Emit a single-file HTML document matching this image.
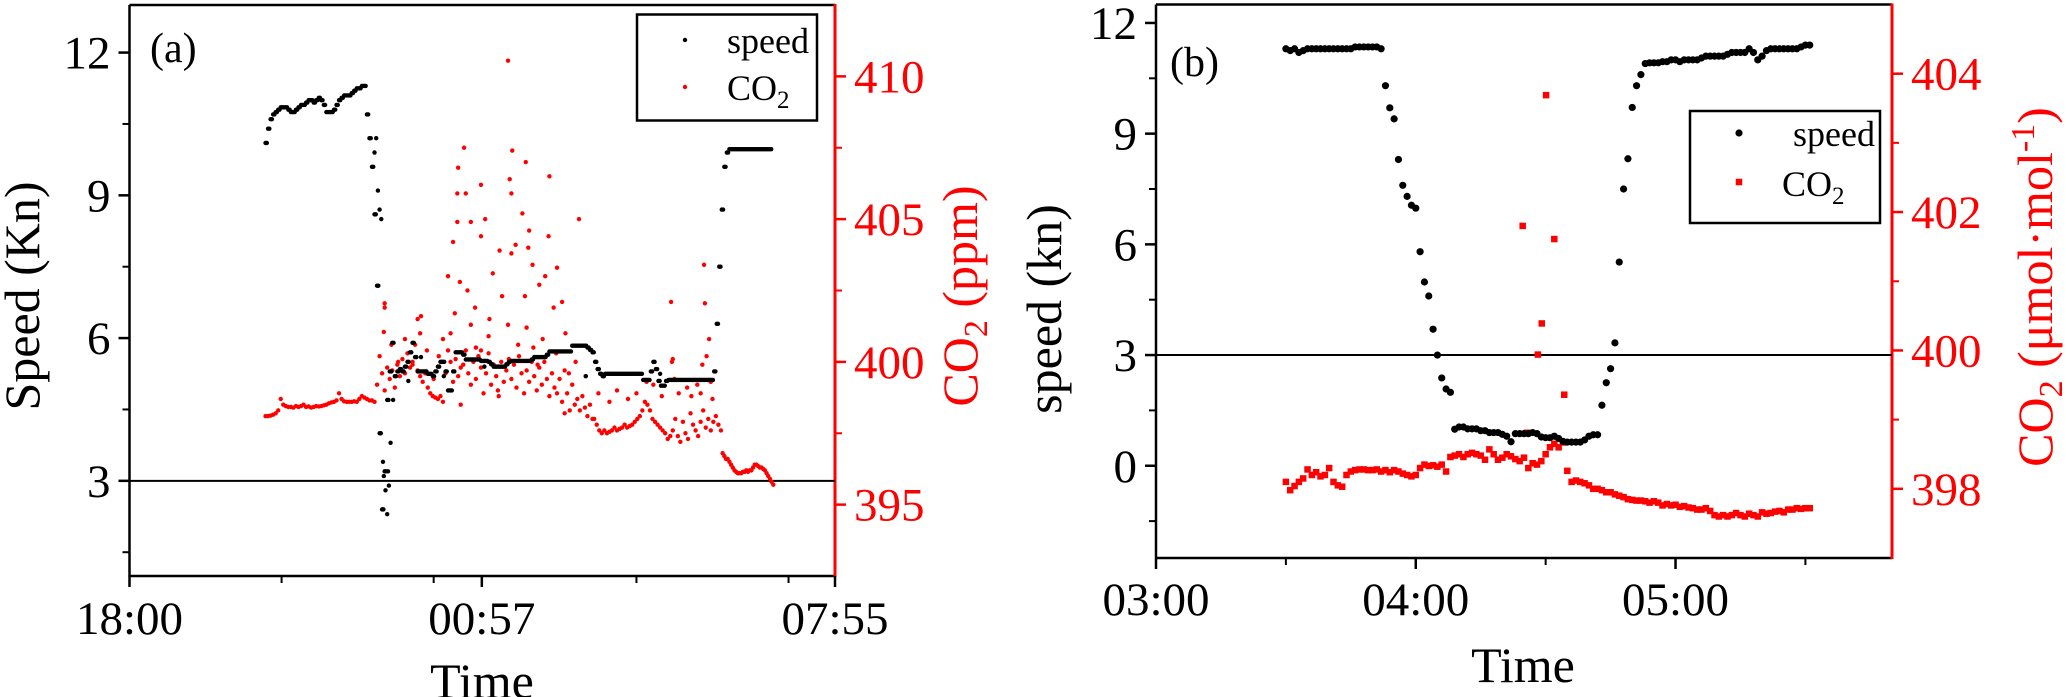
<!DOCTYPE html>
<html><head><meta charset="utf-8"><style>
html,body{margin:0;padding:0;background:#fff;}
svg{display:block;}
svg text{font-family:"Liberation Serif","DejaVu Serif",serif;}
</style></head><body>
<svg id="chart" width="2066" height="697" viewBox="0 0 2066 697" xmlns="http://www.w3.org/2000/svg" font-family="Liberation Serif, DejaVu Serif, serif">
<g id="panelA"></g>
<g id="panelB"></g>
</svg>
<script>
// ---------- Panel (a) data: time in minutes since 18:00 ----------
const aXTickMajor = [0, 417, 835];
const aXTickLabels = ["18:00", "00:57", "07:55"];
const aXTickMinor = [180, 360, 600, 780];
const aYTicks = [3, 6, 9, 12];
const aYMinor = [1.5, 4.5, 7.5, 10.5];
const aRTicks = [395, 400, 405, 410];
const aRMinor = [397.5, 402.5, 407.5];

const speedAStart = 161, speedAStep = 3;
const speedAValues = [10.1,10.4,10.6,
10.7,10.75,10.8,10.85,10.85,10.85,10.8,10.75,10.75,10.8,10.85,10.9,10.9,10.95,11.0,11.0,10.95,11.0,11.05,11.0,10.9,10.75,10.75,10.75,10.8,10.9,11.0,11.05,11.1,11.1,11.1,11.15,11.2,11.25,11.25,11.3,11.3,
10.7,10.2,9.6,8.6,7.1,4.0,2.4,3.2,4.7,5.3,5.9,
5.2,5.3,5.35,5.3,5.4,5.5,5.7,5.9,5.6,5.3,5.3,5.3,5.3,5.25,5.25,5.2,5.3,5.4,5.5,5.5,5.3,4.9,4.9,5.3,5.7,5.7,5.7,5.65,5.55,5.55,5.55,5.55,5.55,5.55,5.52,5.52,5.52,5.5,5.45,5.4,5.4,5.4,5.4,5.4,5.45,5.5,5.52,5.52,5.52,5.52,5.52,5.52,5.52,5.52,5.55,5.6,5.6,5.6,5.6,5.6,5.65,5.72,5.72,5.72,5.72,5.72,5.72,5.72,5.72,5.72,5.84,5.84,5.84,5.84,5.84,5.84,5.8,5.75,5.7,5.5,5.35,5.25,5.2,
5.25,5.25,5.25,5.25,5.25,5.25,5.25,5.25,5.25,5.25,5.25,5.25,5.25,5.25,5.25,5.12,5.12,5.12,5.3,5.5,5.35,5.1,5.0,5.0,5.1,
5.12,5.12,5.12,5.12,5.12,5.12,5.12,5.12,5.12,5.12,5.12,5.12,5.12,5.12,5.12,5.12,5.12,5.12,
5.3,6.3,7.5,8.7,9.6,9.9,
9.97,9.97,9.97,9.97,9.97,9.97,9.97,9.97,9.97,9.97,9.97,9.97,9.97,9.97,9.97,9.97,9.97];
const speedAExtraT = [290,292,294,296,298,300,301,303,305,307,309,306,312,310,330,345,372,420,540,628];
const speedAExtraV = [9.9,10.2,9.1,8.7,8.5,3.4,3.1,2.8,2.3,2.9,3.8,3.2,4.7,5.3,5.1,5.6,5.2,5.4,5.2,5.25];

const co2ASegStarts = [161, 293, 550, 702];
const co2ASegSteps = [3, 3, 3, 2];
const co2ASeg1 = [398.1,398.1,398.12,398.15,398.2,398.3,398.7,398.5,398.45,398.42,398.42,398.4,398.45,398.42,398.45,398.5,398.42,398.44,398.4,398.42,398.45,398.44,398.45,398.48,398.5,398.55,398.58,398.6,398.65,398.9,398.7,398.62,398.6,398.6,398.6,398.62,398.6,398.7,398.8,398.75,398.7,398.65,398.65,398.6];
const co2ASeg2 = [399.2,400.2,399.6,399.0,399.8,399.4,399.7,399.1,399.9,399.5,400.1,399.6,400.3,399.8,400.0,400.6,399.7,399.5,399.3,399.6,399.1,398.9,398.8,398.75,398.7,398.8,398.6,399.6,400.4,400.0,399.3,400.1,399.5,398.5,399.9,400.4,399.6,399.2,400.0,399.4,400.2,399.8,398.9,399.6,400.3,399.2,399.9,399.5,398.8,400.0,399.3,399.7,400.1,399.4,399.9,399.1,400.2,399.6,398.9,399.7,399.3,400.0,399.5,399.0,399.8,399.2,400.0,399.4,398.8,399.6,399.1,398.9,399.4,398.6,398.2,398.9,398.3,399.2,398.5,398.7,398.3,398.8,398.4,398.1,398.5,398.0];
const co2ASeg3 = [398.0,397.8,397.6,397.5,397.6,397.5,397.55,397.6,397.7,397.6,397.65,397.7,397.8,397.7,397.75,397.8,397.9,398.0,398.1,398.3,
398.6,398.5,398.3,398.0,397.9,397.8,397.7,397.6,397.5,397.3,397.4,
397.6,398.0,397.4,397.2,397.9,397.5,397.3,398.2,397.8,397.6,397.4,397.9,398.3,397.7,398.0,397.6,397.9,398.1,397.8,397.6];
const co2ASeg4 = [396.8,396.7,396.6,396.6,396.5,396.4,396.3,396.2,396.15,396.1,396.1,396.1,396.15,396.15,396.2,396.15,396.2,396.2,396.3,396.4,396.4,396.35,396.3,396.3,396.25,396.2,396.1,396.0,395.9,395.8,395.7];
const co2AExtraT = [448,396,453,469,389,497,450,416,388,398,452,532,404,465,421,388,473,496,416,383,438,452,457,472,430,477,492,506,377,391,400,485,441,468,512,502,409,385,426,302,341,404,448,516,416,478,489,371,344,641,642,680,681,686,683,678,643,302,301,345,
577,590,600,612,620,630,645,650,660,665,672,676,690,688,528,540,520,555,568,310,318,326,335,352,360,366,380,392,410,425,436,460,470,483,505,515];
const co2AExtraV = [410.55,407.5,407.4,407.0,406.8,406.5,406.4,406.2,405.9,405.9,405.9,405.0,404.9,405.2,405.0,404.9,404.6,404.4,404.4,404.2,403.9,403.8,404.1,404.0,403.1,403.4,403.0,403.3,403.0,402.8,402.5,402.7,402.3,402.3,402.1,401.9,401.9,401.7,401.5,401.9,401.5,401.3,401.3,401.0,400.4,400.5,400.8,400.8,401.0,402.1,400.0,403.4,402.05,400.8,400.2,399.9,400.1,402.05,401.05,401.6,
399.0,398.7,398.9,399.3,399.2,398.8,399.4,398.9,399.1,398.8,399.2,398.9,398.7,399.3,400.0,399.5,399.6,398.9,398.6,400.6,400.0,400.8,399.9,400.4,399.4,400.2,401.0,399.8,400.5,400.9,399.0,400.6,401.2,399.9,400.3,399.7];

// ---------- Panel (b) data: time in minutes since 03:00 ----------
const bXTickMajor = [0, 60, 120];
const bXTickLabels = ["03:00", "04:00", "05:00"];
const bXTickMinor = [30, 90, 150];
const bYTicks = [0, 3, 6, 9, 12];
const bYMinor = [-1.5, 1.5, 4.5, 7.5, 10.5];
const bRTicks = [398, 400, 402, 404];
const bRMinor = [399, 401, 403];

const speedBStart = 30;
const speedBValues = [11.3,11.25,11.3,11.2,11.25,11.3,11.3,11.3,11.3,11.3,11.3,11.3,11.3,11.3,11.3,11.3,11.35,11.35,11.35,11.35,11.35,11.35,11.3,
10.3,9.7,9.4,8.3,7.6,7.3,7.06,6.98,5.8,4.98,4.6,3.7,3.0,2.38,2.08,1.99,0.99,
1.05,1.05,1.0,1.0,1.0,0.95,0.95,0.9,0.9,0.9,0.85,0.8,0.65,0.87,0.87,0.87,0.87,0.9,0.87,0.78,0.76,0.76,0.8,0.74,0.66,0.64,0.64,0.64,0.64,0.7,0.8,0.84,0.84,
1.64,2.25,2.63,3.33,5.52,7.5,8.32,9.71,10.3,10.6,10.9,
10.92,10.92,10.92,10.95,10.95,11.0,11.0,10.95,11.0,11.0,11.0,11.0,11.05,11.1,11.1,11.1,11.1,11.1,11.15,11.2,11.2,11.2,11.2,11.3,11.2,11.0,11.1,11.25,11.3,11.3,11.3,11.3,11.3,11.3,11.3,11.35,11.4,11.4];

const co2BStart = 30;
const co2BValues = [398.1,397.98,398.04,398.1,398.15,398.28,398.2,398.24,398.18,398.2,398.3,398.1,398.05,398.03,398.2,398.25,398.27,398.28,398.28,398.27,398.27,
398.28,398.25,398.27,398.24,398.27,398.25,398.22,398.2,398.18,398.2,398.3,398.35,398.33,398.34,398.32,398.35,398.25,398.46,
398.48,398.5,398.46,398.5,398.52,398.5,398.48,398.42,398.57,398.5,398.42,398.45,398.5,398.47,398.43,398.4,
398.45,398.3,398.37,398.35,398.4,398.5,398.6,398.65,398.6,398.67,
398.26,398.1,398.12,398.1,398.08,398.05,398.0,398.0,397.98,397.95,397.95,397.92,397.9,397.88,397.85,397.84,397.83,397.83,397.82,397.8,397.82,397.8,397.76,397.78,397.76,397.77,397.74,397.75,397.73,397.72,397.7,397.7,397.72,397.68,397.62,397.6,397.62,397.6,397.62,397.65,397.62,397.6,397.64,397.62,397.6,397.66,397.64,397.65,397.67,397.68,397.66,397.7,397.7,397.72,397.71,397.72,397.72];
const co2BExtraT = [84.7, 85.7, 88.2, 89.1, 90.1, 92.0, 94.3];
const co2BExtraV = [401.8, 398.81, 399.94, 400.39, 403.69, 401.61, 399.36];

// ---------- helpers ----------
const NS = "http://www.w3.org/2000/svg";
const SERIF = "Liberation Serif, DejaVu Serif, serif";
function mk(parent, tag, attrs) {
  const e = document.createElementNS(NS, tag);
  for (const k in attrs) e.setAttribute(k, attrs[k]);
  parent.appendChild(e);
  return e;
}
function lin(d0, d1, r0, r1) { return v => r0 + (v - d0) * (r1 - r0) / (d1 - d0); }

const A = {L: 129.5, R: 835, T: 5, B: 576};
const axA = lin(0, 835, A.L, A.R);
const ayA = lin(1, 13, A.B, A.T);
const arA = lin(392.5, 412.5, A.B, A.T);
const B = {L: 1156, R: 1892, T: 4.5, B: 558};
const bxB = lin(0, 170, B.L, B.R);
const byB = lin(-2.5, 12.5, B.B, B.T);
const brB = lin(397, 405, B.B, B.T);

function drawFrame(g, P, name) {
  let e;
  e = mk(g, "line", {x1: P.L, y1: P.T, x2: P.R, y2: P.T, stroke: "#000", "stroke-width": 2.5});
  
  
  e = mk(g, "line", {x1: P.L, y1: P.B, x2: P.R, y2: P.B, stroke: "#000", "stroke-width": 2.5});
  
  
  e = mk(g, "line", {x1: P.L, y1: P.T, x2: P.L, y2: P.B, stroke: "#000", "stroke-width": 2.5});
  
  
  e = mk(g, "line", {x1: P.R, y1: P.T - 1, x2: P.R, y2: P.B + 1, stroke: "#f00", "stroke-width": 3});
  
  
}
function txt(g, x, y, s, attrs, name) {
  const e = mk(g, "text", Object.assign({x: x, y: y, "font-family": SERIF}, attrs));
  e.textContent = s;
  
  
  return e;
}
function xTicks(g, P, sx, major, labels, minor, labelY, name) {
  major.forEach((t, i) => {
    const l = mk(g, "line", {x1: sx(t), y1: P.B, x2: sx(t), y2: P.B + 11, stroke: "#000", "stroke-width": 2.5});
    
    
    txt(g, sx(t), labelY, labels[i], {"font-size": 47, "text-anchor": "middle", fill: "#000"}, name + '-x-tick-label');
  });
  minor.forEach(t => {
    const l = mk(g, "line", {x1: sx(t), y1: P.B, x2: sx(t), y2: P.B + 7, stroke: "#000", "stroke-width": 2});
    
    
  });
}
function yTicks(g, P, sy, major, minor, side, color, name) {
  const x0 = side === "L" ? P.L : P.R;
  const dir = side === "L" ? -1 : 1;
  major.forEach(v => {
    const l = mk(g, "line", {x1: x0, y1: sy(v), x2: x0 + dir * 11, y2: sy(v), stroke: color, "stroke-width": 2.5});
    
    
    txt(g, x0 + dir * 19, sy(v) + 16, String(v), {"font-size": 47, "text-anchor": side === "L" ? "end" : "start", fill: color}, name + '-y-tick-label');
  });
  minor.forEach(v => {
    const l = mk(g, "line", {x1: x0, y1: sy(v), x2: x0 + dir * 7, y2: sy(v), stroke: color, "stroke-width": 2});
    
    
  });
}
function dot(g, x, y, r, color, name) {
  const c = mk(g, "circle", {cx: x, cy: y, r: r, fill: color});
  
  
}
function sq(g, x, y, s, color, name) {
  const c = mk(g, "rect", {x: x - s / 2, y: y - s / 2, width: s, height: s, fill: color});
  
  
}

// ---------- Draw panel A ----------
const gA = document.getElementById("panelA");
drawFrame(gA, A, "panel-a");
xTicks(gA, A, axA, aXTickMajor, aXTickLabels, aXTickMinor, 634, "panel-a");
yTicks(gA, A, ayA, aYTicks, aYMinor, "L", "#000", "panel-a-speed");
yTicks(gA, A, arA, aRTicks, aRMinor, "R", "#f00", "panel-a-co2");
let hl = mk(gA, "line", {x1: A.L, y1: ayA(3), x2: A.R, y2: ayA(3), stroke: "#000", "stroke-width": 2});



const gAco2 = mk(gA, "g", {});


[co2ASeg1, co2ASeg2, co2ASeg3, co2ASeg4].forEach((seg, si) => {
  seg.forEach((v, i) => dot(gAco2, axA(co2ASegStarts[si] + i * co2ASegSteps[si]), arA(v), 2.2, "#f00", "co2-point"));
});
co2AExtraT.forEach((t, i) => dot(gAco2, axA(t), arA(co2AExtraV[i]), 2.2, "#f00", "co2-point"));

const gAsp = mk(gA, "g", {});


speedAValues.forEach((v, i) => {
  const t = speedAStart + i * speedAStep;
  dot(gAsp, axA(t), ayA(v), 2.2, "#000", "speed-point");
  dot(gAsp, axA(t + 1.5), ayA(v), 2.2, "#000", "speed-point");
});
speedAExtraT.forEach((t, i) => dot(gAsp, axA(t), ayA(speedAExtraV[i]), 2.2, "#000", "speed-point"));

txt(gA, 150, 62, "(a)", {"font-size": 42, fill: "#000"}, "panel-a-label");
txt(gA, 0, 0, "Speed (Kn)", {"font-size": 50, "text-anchor": "middle", fill: "#000", transform: "translate(39,296) rotate(-90)"}, "panel-a-y-axis-title");
txt(gA, 482, 698, "Time", {"font-size": 50, "text-anchor": "middle", fill: "#000"}, "panel-a-x-axis-title");
let rl = mk(gA, "text", {x: 0, y: 0, "font-family": SERIF, "font-size": 50, "text-anchor": "middle", fill: "#f00", transform: "translate(977,296) rotate(-90)"});
rl.innerHTML = 'CO<tspan font-size="34" dy="10">2</tspan><tspan dy="-10"> (ppm)</tspan>';



const lgA = mk(gA, "g", {});


let bx = mk(lgA, "rect", {x: 637, y: 14.5, width: 180, height: 106, fill: "#fff", stroke: "#000", "stroke-width": 2.5});


dot(lgA, 685, 40, 2.2, "#000", "legend-speed-marker");
dot(lgA, 685, 87, 2.2, "#f00", "legend-co2-marker");
txt(lgA, 727, 53, "speed", {"font-size": 36, fill: "#000"}, "legend-entry-speed");
let lc = mk(lgA, "text", {x: 727, y: 100, "font-family": SERIF, "font-size": 36, fill: "#000"});
lc.innerHTML = 'CO<tspan font-size="25" dy="8">2</tspan>';



// ---------- Draw panel B ----------
const gB = document.getElementById("panelB");
drawFrame(gB, B, "panel-b");
xTicks(gB, B, bxB, bXTickMajor, bXTickLabels, bXTickMinor, 615, "panel-b");
yTicks(gB, B, byB, bYTicks, bYMinor, "L", "#000", "panel-b-speed");
yTicks(gB, B, brB, bRTicks, bRMinor, "R", "#f00", "panel-b-co2");
hl = mk(gB, "line", {x1: B.L, y1: byB(3), x2: B.R, y2: byB(3), stroke: "#000", "stroke-width": 2});



const gBco2 = mk(gB, "g", {});


co2BValues.forEach((v, i) => sq(gBco2, bxB(co2BStart + i), brB(v), 6.5, "#f00", "co2-point"));
co2BExtraT.forEach((t, i) => sq(gBco2, bxB(t), brB(co2BExtraV[i]), 6.5, "#f00", "co2-point"));

const gBsp = mk(gB, "g", {});


speedBValues.forEach((v, i) => dot(gBsp, bxB(speedBStart + i), byB(v), 3.6, "#000", "speed-point"));

txt(gB, 1170, 76, "(b)", {"font-size": 42, fill: "#000"}, "panel-b-label");
txt(gB, 0, 0, "speed (kn)", {"font-size": 50, "text-anchor": "middle", fill: "#000", transform: "translate(1061,309) rotate(-90)"}, "panel-b-y-axis-title");
txt(gB, 1523, 682, "Time", {"font-size": 50, "text-anchor": "middle", fill: "#000"}, "panel-b-x-axis-title");
let rb = mk(gB, "text", {x: 0, y: 0, "font-family": SERIF, "font-size": 50, "text-anchor": "middle", fill: "#f00", transform: "translate(2052,287) rotate(-90)"});
rb.innerHTML = 'CO<tspan font-size="34" dy="10">2</tspan><tspan dy="-10"> (μmol·mol</tspan><tspan font-size="34" dy="-18">-1</tspan><tspan dy="18">)</tspan>';



const lgB = mk(gB, "g", {});


bx = mk(lgB, "rect", {x: 1690, y: 111, width: 190, height: 112, fill: "#fff", stroke: "#000", "stroke-width": 2.5});


dot(lgB, 1739, 133, 3.6, "#000", "legend-speed-marker");
sq(lgB, 1739, 182, 6.5, "#f00", "legend-co2-marker");
txt(lgB, 1793, 146, "speed", {"font-size": 36, fill: "#000"}, "legend-entry-speed");
lc = mk(lgB, "text", {x: 1782, y: 196, "font-family": SERIF, "font-size": 36, fill: "#000"});
lc.innerHTML = 'CO<tspan font-size="25" dy="8">2</tspan>';


</script>
</body></html>
